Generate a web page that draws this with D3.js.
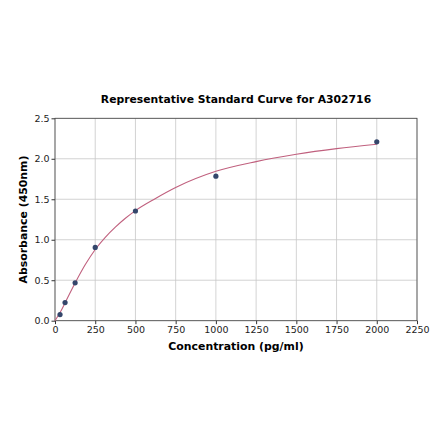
<!DOCTYPE html>
<html>
<head>
<meta charset="utf-8">
<script src="https://cdn.jsdelivr.net/npm/d3@7"></script>
<style>
  body { margin: 0; background: #fff; }
  text { font-family: "DejaVu Sans", sans-serif; }
</style>
</head>
<body>
<script>
// standard points
var conc = [31.25, 62.5, 125, 250, 500, 1000, 2000];
var absorb = [0.076, 0.224, 0.468, 0.905, 1.355, 1.785, 2.21];

// fitted curve, values
var fitConc = [0, 31.25, 62.5, 125, 187.5, 250, 312.5, 375, 437.5, 500, 625, 750, 1000, 1250, 1500, 1750, 2000];
var fitAbs = [0, 0.1, 0.22, 0.465, 0.69, 0.88, 1.03, 1.155, 1.265, 1.36, 1.51, 1.645, 1.845, 1.965, 2.055, 2.125, 2.18];

var xTicks = [0, 250, 500, 750, 1000, 1250, 1500, 1750, 2000, 2250];
var yTicks = [0.0, 0.5, 1.0, 1.5, 2.0, 2.5];

var w = 440, h = 441;
var m = {left: 55, right: 23, top: 118.3, bottom: 120.3};

var svg = d3.select("body").append("svg")
    .attr("width", w)
    .attr("height", h);

var x = d3.scaleLinear().domain([0, 2250]).range([m.left, w - m.right]);
var y = d3.scaleLinear().domain([0, 2.5]).range([h - m.bottom, m.top]);

//grid lines
svg.append("g").selectAll("line.vg")
    .data(xTicks)
    .enter().append("line")
    .attr("x1", function(d){ return x(d); })
    .attr("x2", function(d){ return x(d); })
    .attr("y1", y(0)).attr("y2", y(2.5))
    .style("stroke", "#c8c8c8").style("stroke-width", 0.8);

svg.append("g").selectAll("line.hg")
    .data(yTicks)
    .enter().append("line")
    .attr("y1", function(d){ return y(d); })
    .attr("y2", function(d){ return y(d); })
    .attr("x1", x(0)).attr("x2", x(2250))
    .style("stroke", "#c8c8c8").style("stroke-width", 0.8);

//axes
var xAxis = d3.axisBottom(x).tickValues(xTicks).tickSize(3.5).tickPadding(2).tickFormat(d3.format("d"));
var yAxis = d3.axisLeft(y).tickValues(yTicks).tickSize(3.5).tickPadding(2).tickFormat(d3.format(".1f"));

var gx = svg.append("g").attr("transform", "translate(0," + y(0) + ")").call(xAxis);
var gy = svg.append("g").attr("transform", "translate(" + x(0) + ",0)").call(yAxis);

[gx, gy].forEach(function(g){
    g.select(".domain").remove();
    g.selectAll("line").style("stroke", "#333");
    g.selectAll("text").style("font-size", "9.5px").style("fill", "#222")
        .style("font-family", "DejaVu Sans, sans-serif");
});

//frame
svg.append("rect")
    .attr("x", x(0)).attr("y", y(2.5))
    .attr("width", x(2250) - x(0)).attr("height", y(0) - y(2.5))
    .style("fill", "none").style("stroke", "#444").style("stroke-width", 0.8);

//fitted curve
var fit = fitConc.map(function(d, i){ return [d, fitAbs[i]]; });
var line = d3.line()
    .x(function(d){ return x(d[0]); })
    .y(function(d){ return y(d[1]); })
    .curve(d3.curveMonotoneX);

svg.append("path")
    .datum(fit)
    .attr("d", line)
    .style("fill", "none")
    .style("stroke", "#c0607e")
    .style("stroke-width", 1.1);

//standard points
svg.selectAll(".pts")
    .data(conc)
    .enter().append("circle")
    .attr("class", "pts")
    .attr("cx", function(d){ return x(d); })
    .attr("cy", function(d, i){ return y(absorb[i]); })
    .attr("r", 2.6)
    .style("fill", "#34466b");

//title and axis labels
svg.append("text")
    .attr("x", 236).attr("y", 103)
    .attr("text-anchor", "middle")
    .style("font-size", "10.8px").style("font-weight", "bold")
    .text("Representative Standard Curve for A302716");

svg.append("text")
    .attr("x", 236).attr("y", 350)
    .attr("text-anchor", "middle")
    .style("font-size", "10.9px").style("font-weight", "bold")
    .text("Concentration (pg/ml)");

svg.append("text")
    .attr("transform", "translate(26.5," + ((y(0) + y(2.5)) / 2) + ") rotate(-90)")
    .attr("text-anchor", "middle")
    .style("font-size", "10.9px").style("font-weight", "bold")
    .text("Absorbance (450nm)");
</script>
</body>
</html>
